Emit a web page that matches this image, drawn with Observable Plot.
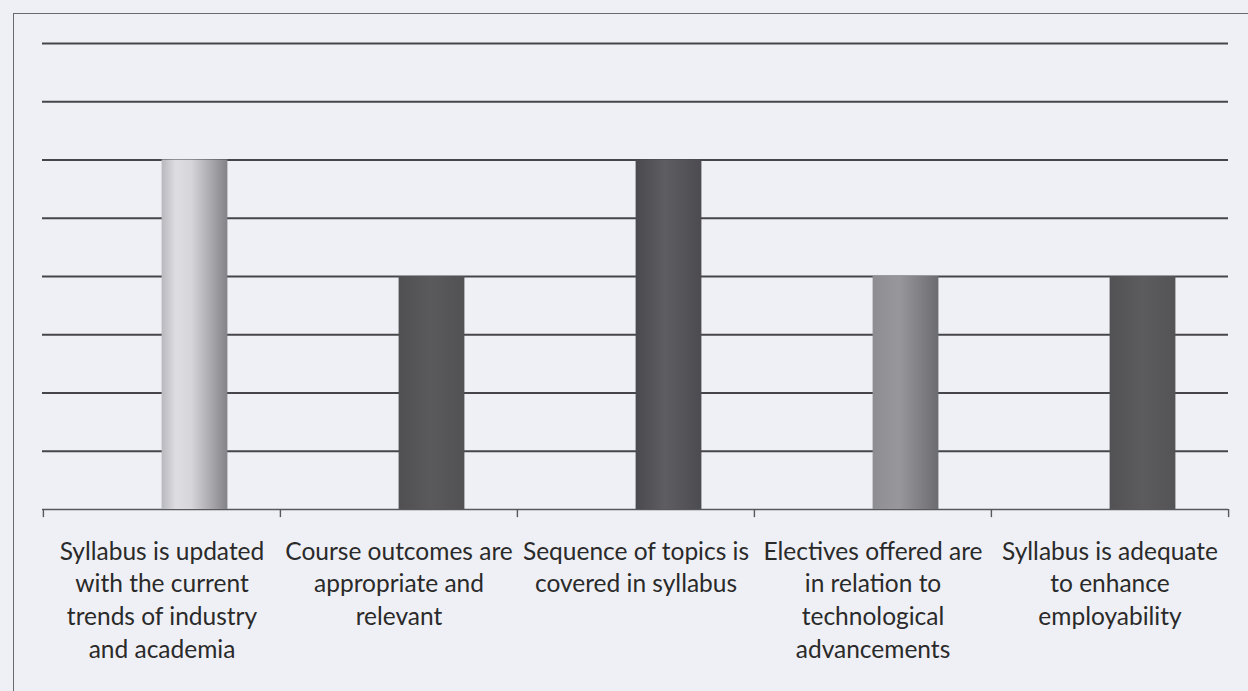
<!DOCTYPE html>
<html>
<head>
<meta charset="utf-8">
<script src="https://cdn.jsdelivr.net/npm/d3@7"></script>
<script src="https://cdn.jsdelivr.net/npm/@observablehq/plot@0.6"></script>
<style>
  html, body { margin: 0; padding: 0; background: #eff0f5; overflow: hidden; }
  #wrap { position: relative; width: 1248px; height: 691px; }
  #border { position: absolute; left: 13px; top: 13px; width: 1260px; height: 700px;
            border-left: 1.5px solid #6a6a6e; border-top: 1.5px solid #6a6a6e; box-sizing: border-box; }
  #chart { position: absolute; left: 0; top: 0; }
</style>
</head>
<body>
<div id="wrap"><div id="border"></div><div id="chart"></div></div>
<script>
// ---- data ----
const categories = [
  "Syllabus is updated\nwith the current\ntrends of industry\nand academia",
  "Course outcomes are\nappropriate and\nrelevant",
  "Sequence of topics is\ncovered in syllabus",
  "Electives offered are\nin relation to\ntechnological\nadvancements",
  "Syllabus is adequate\nto enhance\nemployability"
];
const values = [6, 4, 6, 4, 4];
const gridTicks = [1, 2, 3, 4, 5, 6, 7, 8];
const barFills = ["url(#g1)", "url(#g2)", "url(#g3)", "url(#g4)", "url(#g5)"];

const data = categories.map((c, i) => ({category: c, value: values[i], fill: barFills[i]}));

const width = 1248, height = 691;
const mL = 42, mR = 20, mT = 43, mB = 182;
const bw = (width - mL - mR) / categories.length;
const barW = 66;

function gradientDefs() {
  const defs = d3.create("svg:defs");
  const grads = {
    g1: [[0, "#b9b9bd"], [0.22, "#dedee2"], [0.45, "#d6d6da"], [0.75, "#a9a9ad"], [1, "#838387"]],
    g2: [[0, "#505053"], [0.5, "#5a5a5d"], [1, "#525255"]],
    g3: [[0, "#4a4a4e"], [0.45, "#5e5e62"], [1, "#4c4c50"]],
    g4: [[0, "#8e8e92"], [0.4, "#98989c"], [1, "#6c6c70"]],
    g5: [[0, "#525255"], [0.5, "#5c5c5f"], [1, "#545457"]]
  };
  for (const [id, stops] of Object.entries(grads)) {
    const g = defs.append("linearGradient").attr("id", id)
      .attr("x1", "0%").attr("x2", "100%").attr("y1", "0%").attr("y2", "0%");
    for (const [o, c] of stops) g.append("stop").attr("offset", o).attr("stop-color", c);
  }
  return defs.node();
}

const plot = Plot.plot({
  width, height,
  marginLeft: mL, marginRight: mR, marginTop: mT, marginBottom: mB,
  style: {background: "transparent", fontFamily: "Lato, 'Open Sans', sans-serif", color: "#2a2a2a"},
  x: {domain: categories, padding: 0, axis: null},
  y: {domain: [0, 8], axis: null},
  marks: [
    gradientDefs,
    Plot.ruleY(gridTicks, {stroke: "#46464a", strokeWidth: 1.8}),
    Plot.ruleY([0], {stroke: "#58585c", strokeWidth: 1.6}),
    Plot.barY(data, {x: "category", y: "value", fill: "fill",
      insetLeft: bw / 2, insetRight: bw / 2 - barW}),
    Plot.ruleX(categories, {x: d => d, y1: 0, y2: -0.14, dx: -bw / 2, stroke: "#58585c", strokeWidth: 1.4}),
    Plot.ruleX(categories.slice(-1), {x: d => d, y1: 0, y2: -0.14, dx: bw / 2, stroke: "#58585c", strokeWidth: 1.4}),
    Plot.text(categories, {x: d => d, y: 0, text: d => d, lineAnchor: "top", dy: 27,
      fontSize: 24.5, lineHeight: 1.335, fill: "#2a2a2a", textAnchor: "middle"})
  ]
});
document.getElementById("chart").appendChild(plot);
</script>
</body>
</html>
